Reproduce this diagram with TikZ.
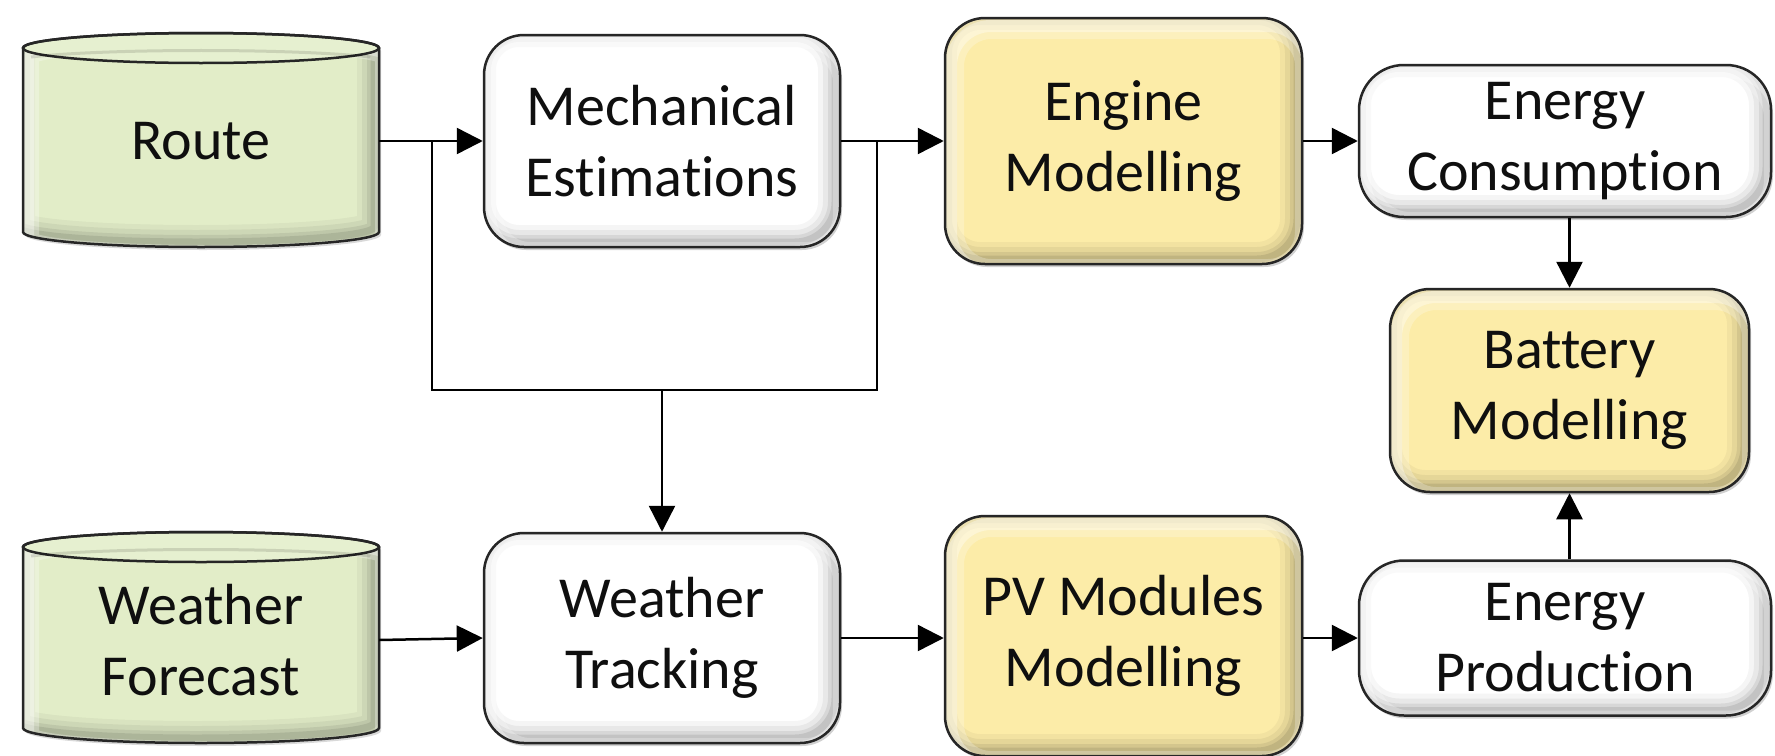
\documentclass[tikz,border=0pt]{standalone}
\usepackage{fontspec}
\setmainfont{Carlito}[Ligatures=CommonOff]
\usetikzlibrary{arrows.meta,shadows}
\definecolor{boxyellow}{RGB}{252,236,168}
\definecolor{cylgreen}{RGB}{226,237,200}
\definecolor{txt}{RGB}{15,15,15}
\newcommand{\bevelpic}[1]{%
  \foreach \w/\o in {34/0.04,24/0.05,14/0.07,7/0.09}{
    \draw[line width=\w pt, black, opacity=\o, rounded corners=#1]
      ([shift={(-5,-5)}]path picture bounding box.south west) rectangle
      ([shift={(-5,-5)}]path picture bounding box.north east);
  }
  \foreach \w/\o in {26/0.25,12/0.35}{
    \draw[line width=\w pt, white, opacity=\o, rounded corners=#1]
      ([shift={(6,8)}]path picture bounding box.south west) rectangle
      ([shift={(6,8)}]path picture bounding box.north east);
  }}
\tikzset{
  boxbase/.style={draw=black!85, line width=2.5pt, rounded corners=#1, align=center,
    text=txt, font=\fontsize{58}{71}\selectfont, inner sep=0pt,
    drop shadow={shadow xshift=2pt, shadow yshift=-3pt, opacity=0.18, fill=black},
    path picture={\bevelpic{#1}}},
  whitebox/.style={boxbase=#1, fill=white},
  whitebox/.default=40pt,
  yellowbox/.style={boxbase=#1, fill=boxyellow},
  yellowbox/.default=40pt,
  cyltext/.style={draw=none, align=center, text=txt, font=\fontsize{58}{71}\selectfont, inner sep=0pt},
  link/.style={line width=2.5pt, draw=black, -{Triangle[length=26pt,width=26pt]}},
  plainline/.style={line width=2.5pt, draw=black},
}
% cylinder body path: center x, top ellipse centre y, bottom ellipse centre y
\newcommand{\cylbody}[3]{%
  ({#1-178},{#2}) -- ({#1-178},{#3}) arc[start angle=180,end angle=0,x radius=178,y radius=15]
  -- ({#1+178},{#2}) arc[start angle=0,end angle=-180,x radius=178,y radius=15] -- cycle}
\newcommand{\cylshape}[3]{%
  \fill[black, opacity=0.15, shift={(2,3)}] \cylbody{#1}{#2}{#3};
  \fill[cylgreen] \cylbody{#1}{#2}{#3};
  \begin{scope}
    \clip \cylbody{#1}{#2}{#3};
    \foreach \w/\o in {34/0.04,24/0.05,14/0.07,7/0.09}{
      \draw[line width=\w pt, black, opacity=\o, shift={(-5,-5)}] \cylbody{#1}{#2}{#3};
    }
    \foreach \w/\o in {20/0.3,10/0.35}{
      \draw[line width=\w pt, white, opacity=\o, shift={(6,8)}] \cylbody{#1}{#2}{#3};
    }
  \end{scope}
  \fill[cylgreen!85!white] (#1,#2) ellipse[x radius=178,y radius=15];
  \draw[line width=2.5pt, black!85] \cylbody{#1}{#2}{#3};
  \draw[line width=2.5pt, black!85] (#1,#2) ellipse[x radius=178,y radius=15];
  \draw[line width=3pt, black, opacity=0.12] ({#1-170},{#2+9}) arc[start angle=-150,end angle=-30,x radius=196,y radius=13];
}
\begin{document}
\begin{tikzpicture}[x=1pt,y=-1pt]
\useasboundingbox[fill=white] (0,0) rectangle (1775,755);

% cylinders
\cylshape{201}{48}{232}
\cylshape{201}{547}{728}
\node[cyltext, minimum width=356pt, minimum height=212pt] (route) at (201,141) {Route};
\node[cyltext, minimum width=356pt, minimum height=212pt] (wf) at (201,640) {Weather\\Forecast};

% top row
\node[whitebox, minimum width=356pt, minimum height=212pt] (mech) at (662,141) {Mechanical\\Estimations};
\node[yellowbox, minimum width=357pt, minimum height=246pt] (eng) at (1123.5,141) {Engine\\Modelling};
\node[whitebox=45pt, minimum width=412pt, minimum height=152pt] (ec) at (1565,141) {Energy\\Consumption};

% battery
\node[yellowbox, minimum width=359pt, minimum height=203pt] (bat) at (1569.5,390.5) {Battery\\Modelling};

% bottom row
\node[whitebox, minimum width=356pt, minimum height=210pt] (wt) at (662,638) {Weather\\Tracking};
\node[yellowbox, minimum width=357pt, minimum height=240pt] (pv) at (1123.5,636) {PV Modules\\Modelling};
\node[whitebox=45pt, minimum width=412pt, minimum height=155pt] (ep) at (1565,638) {Energy\\Production};

% junction points
\coordinate (j1) at (432,141);
\coordinate (j2) at (877,141);
\coordinate (jb) at (662,390);

% connectors
\draw[link] (route.east) -- (mech.west);
\draw[link] (mech.east) -- (eng.west);
\draw[link] (eng.east) -- (ec.west);
\draw[link] (ec.south -| bat.north) -- (bat.north);
\draw[link] (ep.north -| bat.south) -- (bat.south);
\draw[link] (wf.east) -- (wt.west);
\draw[link] (wt.east) -- (wt.east -| pv.west);
\draw[link] (pv.east |- ep.west) -- (ep.west);
\draw[plainline] (j1) -- (j1 |- jb) -- (j2 |- jb) -- (j2);
\draw[link] (jb) -- (wt.north);
\end{tikzpicture}
\end{document}
